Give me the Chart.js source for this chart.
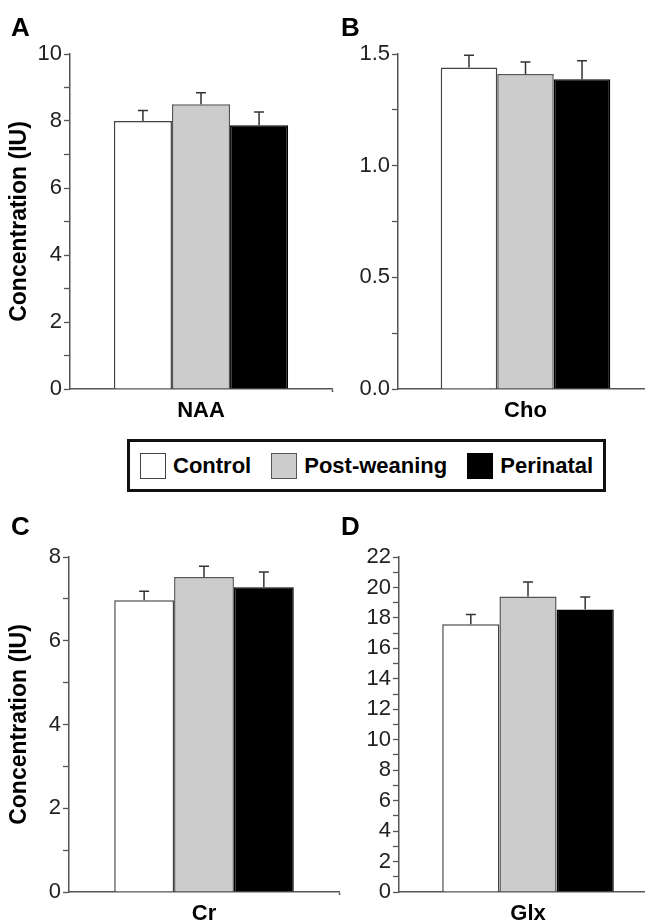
<!DOCTYPE html>
<html>
<head>
<meta charset="utf-8">
<script src="https://cdn.jsdelivr.net/npm/chart.js@4/dist/chart.umd.min.js"></script>
<style>
html,body{margin:0;padding:0;background:#fff;overflow:hidden;}
#fig{position:relative;width:645px;height:922px;overflow:hidden;background:#fff;font-family:"Liberation Sans",Arial,sans-serif;}
.pan{position:absolute;}
.letter{position:absolute;font-weight:bold;font-size:26px;line-height:26px;color:#000;}
#legend{position:absolute;left:127px;top:439px;height:53px;box-sizing:border-box;border:3px solid #111;display:flex;align-items:center;padding:0 10px 0 10px;white-space:nowrap;}
.item{display:flex;align-items:center;margin-right:20px;font-weight:bold;font-size:22px;color:#000;}
.item:last-child{margin-right:0;}
.sw{width:26px;height:26px;box-sizing:border-box;border:1.5px solid #555;margin-right:7px;}
</style>
</head>
<body>
<div id="fig">
  <canvas id="cA" class="pan" style="left:0;top:0;width:340px;height:430px"></canvas>
  <canvas id="cB" class="pan" style="left:330px;top:0;width:330px;height:430px"></canvas>
  <canvas id="cC" class="pan" style="left:0;top:500px;width:345px;height:422px"></canvas>
  <canvas id="cD" class="pan" style="left:340px;top:500px;width:320px;height:422px"></canvas>
  <div class="letter" style="left:11px;top:14px">A</div>
  <div class="letter" style="left:341px;top:14px">B</div>
  <div class="letter" style="left:11px;top:513px">C</div>
  <div class="letter" style="left:341px;top:513px">D</div>
  <div id="legend"></div>
</div>
<script>
// ---- data ----
const metabolites = ['NAA', 'Cho', 'Cr', 'Glx'];
const groups = ['Control', 'Post-weaning', 'Perinatal'];
const control        = [8.00, 1.440, 6.97, 17.58];
const postWeaning    = [8.50, 1.410, 7.52, 19.40];
const perinatal      = [7.87, 1.387, 7.28, 18.55];
const controlSEM     = [0.31, 0.054, 0.21, 0.65];
const postWeaningSEM = [0.34, 0.054, 0.26, 0.96];
const perinatalSEM   = [0.40, 0.083, 0.36, 0.83];
const yMax       = [10, 1.5, 8, 22];
const yStep      = [1, 0.25, 1, 1];
const yLabelStep = [2, 0.5, 2, 2];
const yDecimals  = [0, 1, 0, 0];
const yTitle = 'Concentration (IU)';

// ---- styles ----
const FONT = '"Liberation Sans", Arial, sans-serif';
const fills = ['#ffffff', '#cccccc', '#000000'];
const borders = ['#444444', '#555555', '#000000'];
const AXIS = '#555555';

// legend
const leg = document.getElementById('legend');
groups.forEach((g, i) => {
  const it = document.createElement('div');
  it.className = 'item';
  const sw = document.createElement('div');
  sw.className = 'sw';
  sw.style.background = fills[i];
  sw.style.borderColor = borders[i];
  it.appendChild(sw);
  const t = document.createElement('span');
  t.textContent = g;
  it.appendChild(t);
  leg.appendChild(it);
});

const errorBars = {
  id: 'errorBars',
  afterDatasetsDraw(chart) {
    const ctx = chart.ctx;
    const y = chart.scales.y;
    chart.data.datasets.forEach((ds, i) => {
      const meta = chart.getDatasetMeta(i);
      meta.data.forEach((bar, j) => {
        const v = ds.data[j], e = ds.errors[j];
        const yTop = y.getPixelForValue(v + e);
        const yBase = y.getPixelForValue(v);
        ctx.save();
        ctx.strokeStyle = '#333';
        ctx.lineWidth = 1.5;
        ctx.beginPath();
        ctx.moveTo(bar.x, yBase);
        ctx.lineTo(bar.x, yTop);
        ctx.moveTo(bar.x - 5, yTop);
        ctx.lineTo(bar.x + 5, yTop);
        ctx.stroke();
        ctx.restore();
      });
    });
  }
};

// layout per panel (canvas-space sizes)
const layouts = [
  {id: 'cA', yWidth: 70, xHeight: 41, top: 54, right: 8, title: true},
  {id: 'cB', yWidth: 68, xHeight: 41, top: 54, right: 7, title: false},
  {id: 'cC', yWidth: 69, xHeight: 30, top: 57, right: 6, title: true},
  {id: 'cD', yWidth: 59, xHeight: 30, top: 57, right: 3, title: false}
];

const series = [control, postWeaning, perinatal];
const sems = [controlSEM, postWeaningSEM, perinatalSEM];

metabolites.forEach((m, k) => {
  const L = layouts[k];
  const datasets = groups.map((g, i) => ({
    label: g,
    data: [series[i][k]],
    errors: [sems[i][k]],
    backgroundColor: fills[i],
    borderColor: borders[i],
    borderWidth: 1.5,
    borderSkipped: 'start',
    categoryPercentage: 0.665,
    barPercentage: 1.0
  }));
  new Chart(document.getElementById(L.id), {
    type: 'bar',
    data: {labels: [m], datasets},
    plugins: [errorBars],
    options: {
      responsive: false,
      animation: false,
      devicePixelRatio: 1,
      layout: {padding: {top: L.top, right: L.right, left: 0, bottom: 0}},
      plugins: {legend: {display: false}, tooltip: {enabled: false}},
      scales: {
        x: {
          type: 'category',
          offset: true,
          afterFit: s => { s.height = L.xHeight; },
          grid: {display: true, drawOnChartArea: false, drawTicks: true, tickLength: 3, offset: true,
                 tickColor: c => (c.index === 0 ? 'rgba(0,0,0,0)' : AXIS), tickWidth: 1.5},
          border: {display: true, color: AXIS, width: 1.5},
          ticks: {color: '#000', padding: 6, font: {family: FONT, size: 22, weight: 'bold'}}
        },
        y: {
          min: 0,
          max: yMax[k],
          afterFit: s => { s.width = L.yWidth; },
          grid: {display: true, drawOnChartArea: false, drawTicks: true, tickLength: 6, tickColor: AXIS, tickWidth: 1.3},
          border: {display: true, color: AXIS, width: 1.5},
          ticks: {
            stepSize: yStep[k],
            autoSkip: false,
            padding: 2,
            color: '#222',
            font: {family: FONT, size: 22},
            callback: v => {
              const r = v / yLabelStep[k];
              return Math.abs(r - Math.round(r)) < 1e-6 ? Number(v).toFixed(yDecimals[k]) : '';
            }
          },
          title: {
            display: L.title,
            text: yTitle,
            color: '#000',
            padding: {top: 6, bottom: 0},
            font: {family: FONT, size: 23, weight: 'bold'}
          }
        }
      }
    }
  });
});
</script>
</body>
</html>
